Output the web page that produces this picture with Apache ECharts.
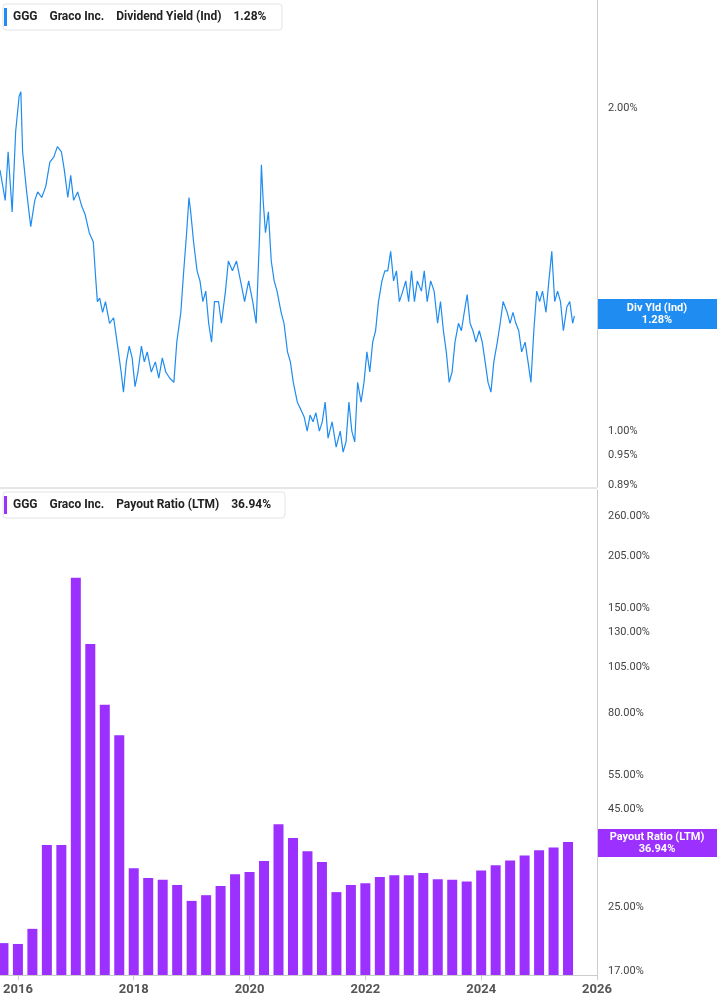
<!DOCTYPE html>
<html><head><meta charset="utf-8">
<script src="https://cdn.jsdelivr.net/npm/echarts@6/dist/echarts.min.js"></script>
<style>html,body{margin:0;padding:0;background:#fff}#c{width:717px;height:1005px}</style>
</head><body><div id="c"></div>
<script>
const yieldDates=[2015.70,2015.79,2015.84,2015.91,2015.97,2016.03,2016.06,2016.09,2016.16,2016.23,2016.30,2016.35,2016.42,2016.49,2016.56,2016.63,2016.69,2016.76,2016.81,2016.87,2016.92,2016.97,2017.04,2017.11,2017.17,2017.24,2017.31,2017.35,2017.38,2017.42,2017.47,2017.52,2017.59,2017.66,2017.72,2017.79,2017.83,2017.88,2017.93,2017.98,2018.03,2018.08,2018.14,2018.19,2018.24,2018.31,2018.38,2018.44,2018.50,2018.56,2018.63,2018.70,2018.75,2018.82,2018.87,2018.92,2018.96,2018.99,2019.04,2019.10,2019.15,2019.20,2019.25,2019.30,2019.35,2019.40,2019.47,2019.52,2019.59,2019.64,2019.71,2019.78,2019.85,2019.92,2019.99,2020.06,2020.12,2020.18,2020.21,2020.24,2020.28,2020.33,2020.38,2020.43,2020.48,2020.55,2020.60,2020.66,2020.71,2020.76,2020.83,2020.88,2020.95,2021.00,2021.05,2021.10,2021.15,2021.21,2021.26,2021.31,2021.36,2021.43,2021.50,2021.57,2021.62,2021.67,2021.72,2021.77,2021.82,2021.87,2021.93,2021.98,2022.03,2022.08,2022.13,2022.18,2022.23,2022.29,2022.34,2022.39,2022.44,2022.49,2022.54,2022.59,2022.65,2022.70,2022.75,2022.80,2022.85,2022.90,2022.97,2023.02,2023.07,2023.13,2023.19,2023.25,2023.30,2023.35,2023.40,2023.45,2023.50,2023.55,2023.61,2023.66,2023.71,2023.76,2023.81,2023.86,2023.91,2023.97,2024.02,2024.07,2024.12,2024.17,2024.22,2024.28,2024.33,2024.38,2024.45,2024.50,2024.55,2024.60,2024.65,2024.70,2024.76,2024.81,2024.86,2024.91,2024.96,2025.01,2025.06,2025.12,2025.17,2025.22,2025.27,2025.32,2025.37,2025.42,2025.48,2025.53,2025.58,2025.61];
const yieldVals=[1.75,1.64,1.82,1.60,1.90,2.05,2.07,1.82,1.67,1.55,1.64,1.67,1.65,1.69,1.78,1.80,1.84,1.82,1.75,1.65,1.73,1.64,1.67,1.62,1.59,1.53,1.50,1.39,1.32,1.33,1.29,1.32,1.26,1.275,1.21,1.135,1.087,1.16,1.20,1.17,1.10,1.135,1.20,1.16,1.185,1.135,1.16,1.12,1.17,1.135,1.12,1.11,1.21,1.29,1.41,1.53,1.65,1.60,1.50,1.41,1.38,1.32,1.35,1.26,1.21,1.32,1.32,1.26,1.35,1.44,1.41,1.44,1.38,1.32,1.38,1.32,1.26,1.53,1.77,1.64,1.53,1.60,1.44,1.38,1.35,1.29,1.26,1.185,1.16,1.11,1.064,1.05,1.03,1.00,1.035,1.02,1.04,1.00,1.02,1.064,0.985,1.02,0.966,1.00,0.956,0.977,1.064,1.00,0.977,1.11,1.064,1.11,1.185,1.135,1.21,1.24,1.32,1.38,1.41,1.41,1.47,1.38,1.41,1.32,1.35,1.38,1.32,1.41,1.32,1.38,1.35,1.41,1.32,1.38,1.35,1.26,1.32,1.24,1.185,1.11,1.135,1.21,1.26,1.24,1.29,1.34,1.26,1.24,1.21,1.24,1.21,1.16,1.11,1.087,1.16,1.21,1.26,1.32,1.29,1.26,1.29,1.26,1.24,1.185,1.21,1.16,1.11,1.24,1.35,1.32,1.35,1.29,1.38,1.47,1.32,1.35,1.32,1.24,1.305,1.32,1.26,1.28];
const payoutDates=[2015.75,2016.00,2016.25,2016.50,2016.75,2017.00,2017.25,2017.50,2017.75,2018.00,2018.25,2018.50,2018.75,2019.00,2019.25,2019.50,2019.75,2020.00,2020.25,2020.50,2020.75,2021.00,2021.25,2021.50,2021.75,2022.00,2022.25,2022.50,2022.75,2023.00,2023.25,2023.50,2023.75,2024.00,2024.25,2024.50,2024.75,2025.00,2025.25,2025.50];
const payoutVals=[20.1,20.0,21.9,36.2,36.2,180,121,84,70,31.5,29.7,29.4,28.5,25.9,26.8,28.3,30.4,30.8,32.9,41,37.8,34.9,32.7,27.3,28.5,28.8,29.9,30.2,30.2,30.6,29.5,29.4,29.1,31.1,32.1,33.0,34.0,35.1,35.7,36.9];
const yearTicks=[2016,2018,2020,2022,2024,2026];
const yieldTicks=[0.89,0.95,1.00,2.00];
const payoutTicks=[17,25,45,55,80,105,130,150,205,260];

const chart=echarts.init(document.getElementById('c'));
const F='Roboto, "Liberation Sans", Arial, sans-serif';
const xCommon={type:'value',min:2015.7,max:2026,splitLine:{show:false}};
chart.setOption({
  animation:false,
  textStyle:{fontFamily:F},
  grid:[{left:0,right:120,top:0,height:487},{left:0,right:120,top:490,bottom:30}],
  xAxis:[
    Object.assign({gridIndex:0,show:false},xCommon),
    Object.assign({gridIndex:1,axisLine:{lineStyle:{color:'#ccc'}},
      axisTick:{customValues:yearTicks,lineStyle:{color:'#ccc'}},
      axisLabel:{customValues:yearTicks,formatter:v=>String(Math.round(v)),color:'#555',fontSize:13,fontWeight:'bold'}},xCommon)
  ],
  yAxis:[
    {gridIndex:0,type:'log',logBase:10,position:'right',min:0.887,max:2.52,splitLine:{show:false},
     axisLine:{show:true,lineStyle:{color:'#ccc'}},axisTick:{show:false},
     axisLabel:{customValues:yieldTicks,formatter:v=>v.toFixed(2)+'%',color:'#444',fontSize:11,margin:11}},
    {gridIndex:1,type:'log',logBase:10,position:'right',min:16.6,max:305,splitLine:{show:false},
     axisLine:{show:true,lineStyle:{color:'#ccc'}},axisTick:{show:false},
     axisLabel:{customValues:payoutTicks,formatter:v=>v.toFixed(2)+'%',color:'#444',fontSize:11,margin:11}}
  ],
  series:[
    {type:'line',xAxisIndex:0,yAxisIndex:0,data:yieldDates.map((d,i)=>[d,yieldVals[i]]),
     showSymbol:false,lineStyle:{color:'#1e8cf0',width:1.2},itemStyle:{color:'#1e8cf0'}},
    {type:'bar',xAxisIndex:1,yAxisIndex:1,data:payoutDates.map((d,i)=>[d,payoutVals[i]]),
     barWidth:10,itemStyle:{color:'#9b30ff'}}
  ],
  graphic:[
    {type:'line',shape:{x1:0,y1:488,x2:597,y2:488},style:{stroke:'#ccc',lineWidth:1}},
    {type:'rect',shape:{x:3,y:4,width:279,height:26,r:3},style:{fill:'#fff',stroke:'#e3e3e3'}},
    {type:'rect',shape:{x:4,y:8,width:3,height:18},style:{fill:'#1e8cf0'}},
    {type:'text',x:13,y:17,style:{text:'GGG    Graco Inc.    Dividend Yield (Ind)    1.28%',font:'bold 12px '+F,fill:'#222',verticalAlign:'middle'}},
    {type:'rect',shape:{x:3,y:492,width:282,height:26,r:3},style:{fill:'#fff',stroke:'#e3e3e3'}},
    {type:'rect',shape:{x:4,y:496,width:3,height:18},style:{fill:'#9b30ff'}},
    {type:'text',x:13,y:505,style:{text:'GGG    Graco Inc.    Payout Ratio (LTM)    36.94%',font:'bold 12px '+F,fill:'#222',verticalAlign:'middle'}},
    {type:'rect',shape:{x:598,y:299,width:119,height:30},style:{fill:'#1e8cf0'}},
    {type:'text',x:657,y:314,style:{text:'Div Yld (Ind)\n1.28%',font:'bold 11px '+F,fill:'#fff',align:'center',verticalAlign:'middle',lineHeight:12}},
    {type:'rect',shape:{x:598,y:829,width:119,height:28},style:{fill:'#9b30ff'}},
    {type:'text',x:657,y:843,style:{text:'Payout Ratio (LTM)\n36.94%',font:'bold 11px '+F,fill:'#fff',align:'center',verticalAlign:'middle',lineHeight:12}}
  ]
});
</script></body></html>
